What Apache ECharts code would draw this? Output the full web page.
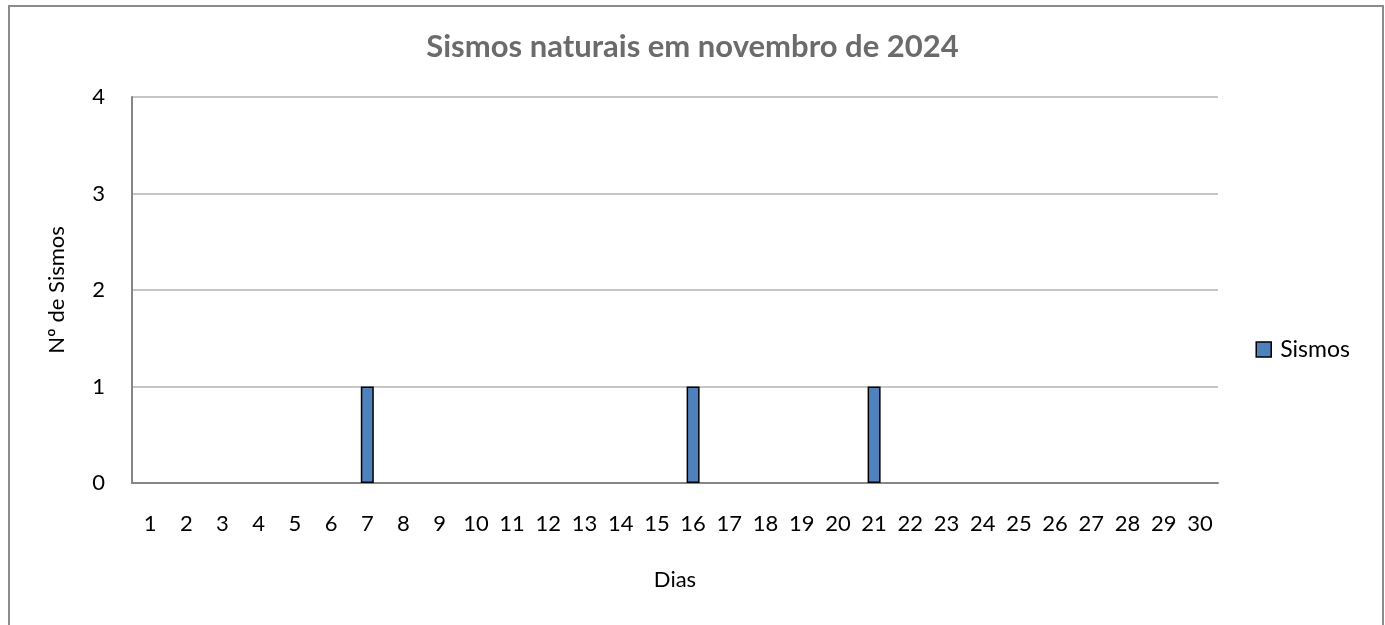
<!DOCTYPE html>
<html>
<head>
<meta charset="utf-8">
<script src="https://cdn.jsdelivr.net/npm/echarts@6/dist/echarts.min.js"></script>
<style>
html,body{margin:0;padding:0;background:#fff;}
#c{width:1385px;height:625px;}
</style>
</head>
<body>
<div id="c"></div>
<script>
const titleText = "Sismos naturais em novembro de 2024";
const seriesName = "Sismos";
const xAxisName = "Dias";
const yAxisName = "Nº de Sismos";
const days = ["1","2","3","4","5","6","7","8","9","10","11","12","13","14","15","16","17","18","19","20","21","22","23","24","25","26","27","28","29","30"];
const sismos = [0,0,0,0,0,0,1,0,0,0,0,0,0,0,0,1,0,0,0,0,1,0,0,0,0,0,0,0,0,0];
const yTicks = {min:0, max:4, interval:1};

const FONT = "Lato";
const chart = echarts.init(document.getElementById('c'), null, {renderer:'canvas'});
chart.setOption({
  animation:false,
  backgroundColor:'#ffffff',
  textStyle:{fontFamily:FONT},
  graphic:[{
    type:'rect', left:8, top:5, z:-1,
    shape:{width:1374, height:640},
    style:{fill:'#ffffff', stroke:'#8c8c8c', lineWidth:2}
  }],
  title:{
    text:titleText, left:'center', top:26,
    textStyle:{fontFamily:FONT, fontSize:31, fontWeight:'bold', color:'#6b6b6b'}
  },
  legend:{
    right:30, top:333, itemWidth:15, itemHeight:15, itemGap:6,
    icon:'rect',
    textStyle:{fontFamily:FONT, fontSize:23, color:'#000', padding:[0,0,0,4]},
    data:[{name:seriesName, itemStyle:{color:'#4f81bd', borderColor:'#000', borderWidth:1.5}}]
  },
  grid:{left:132, top:97, width:1086, height:386, containLabel:false},
  xAxis:{
    type:'category', data:days,
    name:xAxisName, nameLocation:'middle', nameGap:86,
    nameTextStyle:{fontFamily:FONT, fontSize:22, color:'#000'},
    axisLine:{show:true, lineStyle:{color:'#868686', width:2}},
    axisTick:{show:false},
    axisLabel:{fontFamily:FONT, fontSize:22, color:'#000', margin:30, interval:0}
  },
  yAxis:{
    type:'value', min:yTicks.min, max:yTicks.max, interval:yTicks.interval,
    name:yAxisName, nameLocation:'middle', nameGap:64, nameRotate:90,
    nameTextStyle:{fontFamily:FONT, fontSize:22, color:'#000'},
    axisLine:{show:true, lineStyle:{color:'#868686', width:2}},
    axisTick:{show:false},
    axisLabel:{fontFamily:FONT, fontSize:22, color:'#000', margin:27},
    splitLine:{show:true, lineStyle:{color:'#b3b3b3', width:1.5}}
  },
  series:[{
    name:seriesName, type:'bar', data:sismos.map(v => v === 0 ? '-' : v), barWidth:13,
    itemStyle:{color:'#4f81bd', borderColor:'#000', borderWidth:1.5}
  }]
});
</script>
</body>
</html>
